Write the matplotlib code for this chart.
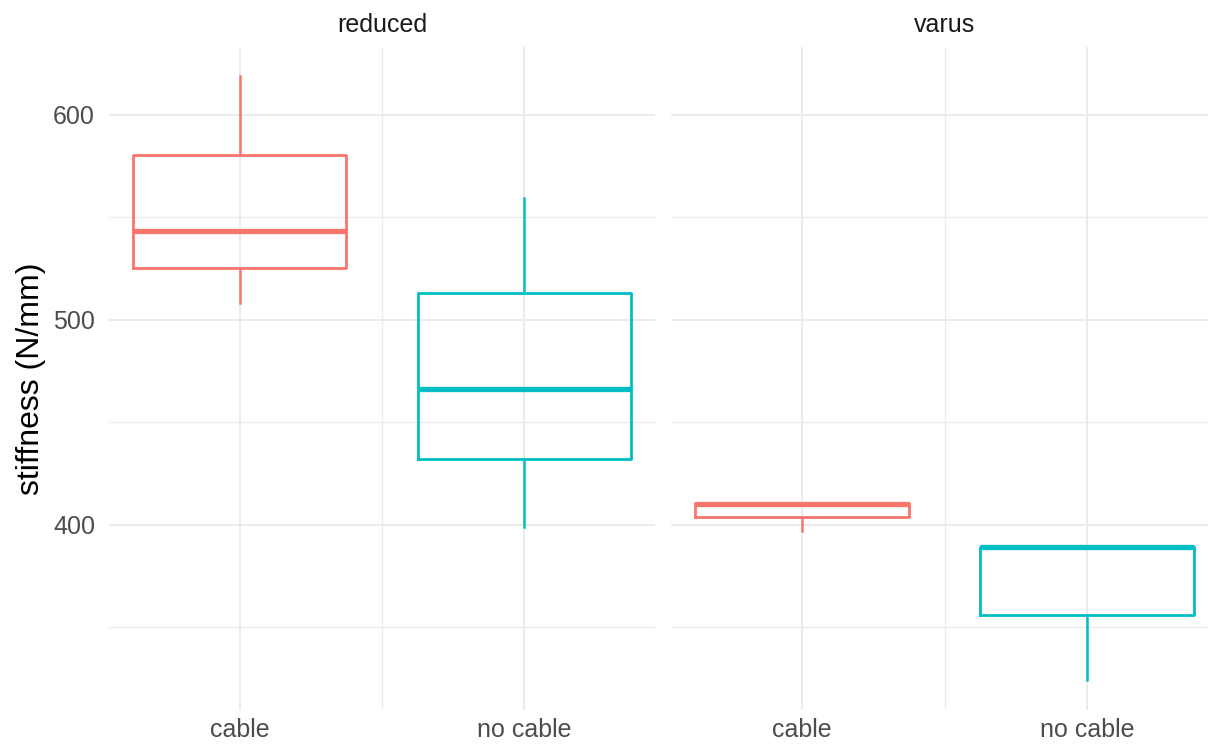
import matplotlib
matplotlib.use("Agg")
import matplotlib.pyplot as plt

plt.rcParams['font.family'] = ['Liberation Sans', 'DejaVu Sans']

# data (N/mm)
panels = ["reduced", "varus"]
groups = ["cable", "no cable"]
colors = ["#F8766D", "#00BFC4"]

whislo = {"reduced": [508, 399], "varus": [397, 324]}
q1 = {"reduced": [525, 432], "varus": [403.5, 356]}
med = {"reduced": [543, 466], "varus": [410, 389]}
q3 = {"reduced": [580.5, 513], "varus": [410.5, 389]}
whishi = {"reduced": [619, 559.5], "varus": [410.5, 389]}

yticks = [400, 500, 600]
yminor = [350, 450, 550]

W, H = 1208, 746
fig = plt.figure(figsize=(W / 100, H / 100), dpi=100)

ax_boxes = [[109, 47, 546, 663], [671, 47, 547, 663]]
grid_col = "#EBEBEB"

for i, p in enumerate(panels):
    x0, y0, w, h = ax_boxes[i]
    ax = fig.add_axes([x0 / W, 1 - (y0 + h) / H, w / W, h / H])
    for s in ax.spines.values():
        s.set_visible(False)
    ax.set_xlim(0.54, 2.46)
    ax.set_ylim(309.5, 633)

    # grid (major + minor)
    for yv in yticks:
        ax.axhline(yv, color=grid_col, lw=1.4, zorder=0)
    for yv in yminor:
        ax.axhline(yv, color=grid_col, lw=0.9, zorder=0)
    for xv in [1, 2]:
        ax.axvline(xv, color=grid_col, lw=1.4, zorder=0)
    ax.axvline(1.5, color=grid_col, lw=0.9, zorder=0)

    for j, g in enumerate(groups):
        st = [dict(med=med[p][j], q1=q1[p][j], q3=q3[p][j],
                   whislo=whislo[p][j], whishi=whishi[p][j], label=g)]
        c = colors[j]
        ax.bxp(st, positions=[j + 1], widths=0.75, showcaps=False,
               showfliers=False, patch_artist=False,
               boxprops=dict(color=c, lw=2.0),
               whiskerprops=dict(color=c, lw=1.8),
               medianprops=dict(color=c, lw=3.8, solid_capstyle='butt'))

    ax.set_xticks([1, 2])
    ax.set_xticklabels(groups)
    ax.tick_params(axis='both', length=0, labelsize=18, colors="#4D4D4D")
    ax.tick_params(axis='x', pad=6)
    ax.tick_params(axis='y', pad=10)
    ax.set_yticks(yticks)
    if i == 0:
        ax.set_yticklabels([str(v) for v in yticks])
        ax.set_ylabel("stiffness (N/mm)", fontsize=23, color="black",
                      labelpad=5)
    else:
        ax.set_yticklabels([])
    ax.set_title(p, fontsize=18, color="#1A1A1A", pad=11)

fig.savefig("out.png", dpi=100)
